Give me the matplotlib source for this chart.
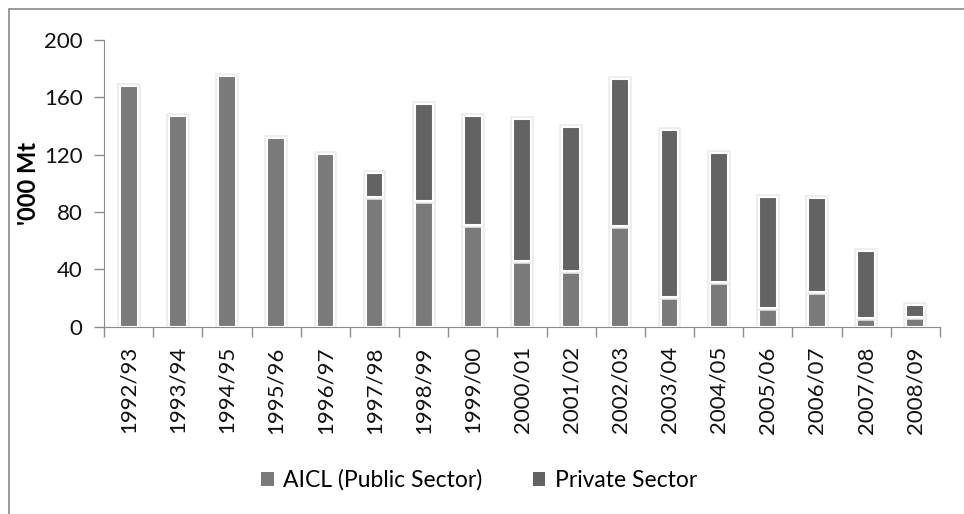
import matplotlib.pyplot as plt
import matplotlib.patheffects as pe
from matplotlib.patches import Rectangle
import numpy as np

plt.rcParams['font.family'] = ['Lato', 'DejaVu Sans']

years = ['1992/93', '1993/94', '1994/95', '1995/96', '1996/97', '1997/98',
         '1998/99', '1999/00', '2000/01', '2001/02', '2002/03', '2003/04',
         '2004/05', '2005/06', '2006/07', '2007/08', '2008/09']
aicl = [168, 147, 175, 131.5, 120.5, 90.5, 88, 71, 45.5, 39, 70.5, 20.5,
        31.5, 13, 24.5, 6, 7]
private = [0, 0, 0, 0, 0, 16.5, 67.5, 76, 99.5, 100, 102.5, 116.5,
           90, 77.5, 65, 46.5, 8]
yticks = [0, 40, 80, 120, 160, 200]

col_pub = '#7a7a7a'
col_priv = '#636363'
axis_col = '#8c8c8c'

fig = plt.figure(figsize=(9.64, 5.14), dpi=100)
# chart area frame
fig.patches.append(Rectangle((9 / 964, -0.1), 1.2, 1 - 9 / 514 + 0.1,
                             transform=fig.transFigure, fill=False,
                             edgecolor='#8a8a8a', linewidth=1.2))
ax = fig.add_axes([0.108, 0.3644, 0.867, 0.5578])

x = np.arange(len(years))
halo = [pe.Stroke(linewidth=4, foreground='#ececec'), pe.Normal()]
b1 = ax.bar(x, aicl, width=0.36, color=col_pub, edgecolor='white',
            linewidth=1.5, zorder=3)
b2 = ax.bar(x, private, bottom=aicl, width=0.36, color=col_priv,
            edgecolor='white', linewidth=1.5, zorder=3)
for bars, vals in ((b1, aicl), (b2, private)):
    for r, v in zip(bars, vals):
        if v > 0:
            r.set_path_effects(halo)
        else:
            r.set_visible(False)

ax.set_xlim(-0.5, len(years) - 0.5)
ax.set_ylim(0, 200)
ax.set_yticks(yticks)
ax.tick_params(axis='y', labelsize=16, length=7, color=axis_col, width=1,
               pad=8.5, labelcolor='#111111')
ax.set_xticks(x)
ax.set_xticklabels(years, rotation=90, fontsize=16, color='#111111')
ax.tick_params(axis='x', length=0, pad=14)
ax.set_xticks(np.arange(len(years) + 1) - 0.5, minor=True)
ax.tick_params(axis='x', which='minor', length=7, color=axis_col, width=1)
for s in ('top', 'right'):
    ax.spines[s].set_visible(False)
for s in ('left', 'bottom'):
    ax.spines[s].set_color(axis_col)
ax.set_ylabel("'000 Mt", fontsize=17, fontweight='bold')
ax.yaxis.set_label_coords(-0.077, 0.5)

handles = [Rectangle((0, 0), 1, 1, facecolor=col_pub, edgecolor='none'),
           Rectangle((0, 0), 1, 1, facecolor=col_priv, edgecolor='none')]
fig.legend(handles, ['AICL (Public Sector)', 'Private Sector'],
           loc='center', bbox_to_anchor=(0.497, 0.066), ncol=2,
           frameon=False, fontsize=16.5, handlelength=0.55,
           handleheight=0.55, handletextpad=0.4, columnspacing=2.2)

fig.savefig('out.png', dpi=100)
